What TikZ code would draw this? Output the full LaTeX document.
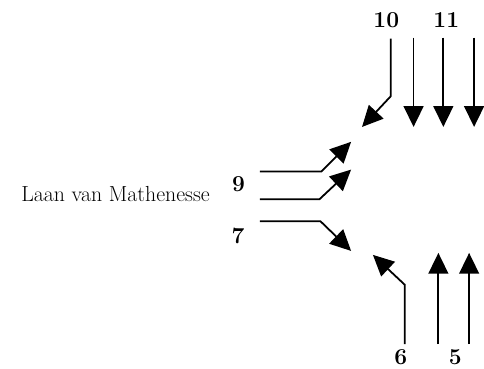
\documentclass[tikz,border=0pt]{standalone}
\usepackage{fontspec}
\usepackage{tikz}
\usetikzlibrary{arrows.meta}

\begin{document}
\begin{tikzpicture}[
        x=1pt, y=1pt,
        lane/.style={-{Triangle[length=21pt, width=20pt]}, line width=1.8pt},
        num/.style={font=\fontsize{23}{26}\selectfont\bfseries, inner sep=0pt, anchor=base},
        street/.style={font=\fontsize{22}{25}\selectfont, inner sep=0pt, anchor=base}
    ]
%
    \fill[white] (0,0) rectangle (484,372);
%
    % Labels
    \node[num] (n10) at (389.5,344) {10};
    \node[num] (n11) at (450,344) {11};
    \node[num] (n9) at (240.5,179) {9};
    \node[num] (n7) at (240,126) {7};
    \node[num] (n6) at (404,4) {6};
    \node[num] (n5) at (459,4) {5};
    \node[street] (laan) at (116.5,169) {Laan van Mathenesse};
%
    % Lane points
    \coordinate (a10) at (394,333);
    \coordinate (b10) at (394,275);
    \coordinate (t10) at (365,244);
    \coordinate (a11) at (417,334);
    \coordinate (t11) at (417,244);
    \coordinate (a12) at (447,334);
    \coordinate (t12) at (447,244);
    \coordinate (a13) at (478,334);
    \coordinate (t13) at (478,244);
    \coordinate (a9) at (262,199);
    \coordinate (b9) at (324,199);
    \coordinate (t9) at (354,229);
    \coordinate (a8) at (262,171);
    \coordinate (b8) at (322,171);
    \coordinate (t8) at (354,201);
    \coordinate (a7) at (262,149);
    \coordinate (b7) at (323,149);
    \coordinate (t7) at (354,119);
    \coordinate (a6) at (408,25);
    \coordinate (b6) at (408,85);
    \coordinate (t6) at (376,115);
    \coordinate (a5) at (442,25);
    \coordinate (t5) at (442,117);
    \coordinate (a4) at (473,25);
    \coordinate (t4) at (473,117);
%
    % Arrows
    \draw[lane] (a10) -- (b10) -- (t10);
    \draw[lane] (a11) -- (t11);
    \draw[lane] (a12) -- (t12);
    \draw[lane] (a13) -- (t13);
    \draw[lane] (a9) -- (b9) -- (t9);
    \draw[lane] (a8) -- (b8) -- (t8);
    \draw[lane] (a7) -- (b7) -- (t7);
    \draw[lane] (a6) -- (b6) -- (t6);
    \draw[lane] (a5) -- (t5);
    \draw[lane] (a4) -- (t4);
%
    \useasboundingbox (0,0) rectangle (484,372);
\end{tikzpicture}
\end{document}
